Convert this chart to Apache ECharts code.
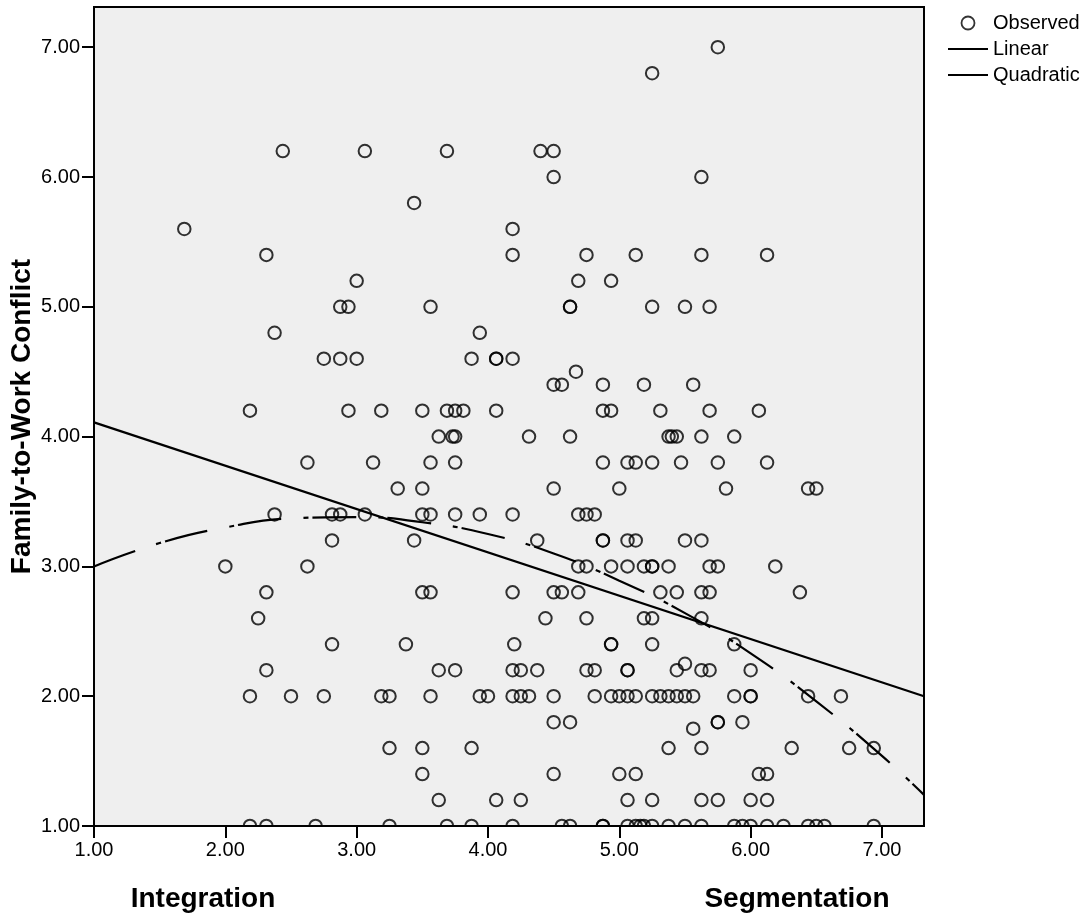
<!DOCTYPE html>
<html lang="en">
  <head>
    <meta charset="UTF-8" />
    <title>Family-to-Work Conflict</title>
    <style>
      * {
        margin: 0;
        padding: 0;
      }
      html,
      body {
        width: 100%;
        height: 100%;
        background: #fff;
      }
      #chart {
        width: 1092px;
        height: 920px;
      }
    </style>
    <script src="https://cdn.jsdelivr.net/npm/echarts@6/dist/echarts.min.js"></script>
  </head>
  <body>
    <div id="chart"></div>
    <script>
      // tick positions on both axes
      var xTicks = [1, 2, 3, 4, 5, 6, 7];
      var yTicks = [1, 2, 3, 4, 5, 6, 7];

      // observed points, grouped by conflict score: [y, [x, x, ...]]
      var observedRows = [
        [7.0, [5.75]],
        [6.8, [5.25]],
        [6.2, [2.4375, 3.0625, 3.6875, 4.4, 4.5]],
        [6.0, [4.5, 5.625]],
        [5.8, [3.4375]],
        [5.6, [1.6875, 4.1875]],
        [5.4, [2.3125, 4.1875, 4.75, 5.125, 5.625, 6.125]],
        [5.2, [3.0, 4.6875, 4.9375]],
        [5.0, [2.875, 2.9375, 3.5625, 4.625, 4.625, 5.25, 5.5, 5.6875]],
        [4.8, [2.375, 3.9375]],
        [4.6, [2.75, 2.875, 3.0, 3.875, 4.0625, 4.0625, 4.1875]],
        [4.5, [4.67]],
        [4.4, [4.5, 4.5625, 4.875, 5.1875, 5.5625]],
        [4.2, [2.1875, 2.9375, 3.1875, 3.5, 3.6875, 3.75, 3.8125, 4.0625, 4.875, 4.9375, 5.3125, 5.6875, 6.0625]],
        [4.0, [3.625, 3.73, 3.75, 4.3125, 4.625, 5.375, 5.4, 5.4375, 5.625, 5.875]],
        [3.8, [2.625, 3.125, 3.5625, 3.75, 4.875, 5.0625, 5.125, 5.25, 5.47, 5.75, 6.125]],
        [3.6, [3.3125, 3.5, 4.5, 5.0, 5.8125, 6.4375, 6.5]],
        [3.4, [2.375, 2.8125, 2.875, 3.0625, 3.5, 3.5625, 3.75, 3.9375, 4.1875, 4.6875, 4.75, 4.8125]],
        [3.2, [2.8125, 3.4375, 4.375, 4.875, 4.875, 5.0625, 5.125, 5.5, 5.625]],
        [3.0, [2.0, 2.625, 4.6875, 4.75, 4.9375, 5.0625, 5.1875, 5.25, 5.25, 5.375, 5.6875, 5.75, 6.1875]],
        [2.8, [2.3125, 3.5, 3.5625, 4.1875, 4.5, 4.5625, 4.6875, 5.3125, 5.4375, 5.625, 5.6875, 6.375]],
        [2.6, [2.25, 4.4375, 4.75, 5.1875, 5.25, 5.625]],
        [2.4, [2.8125, 3.375, 4.2, 4.9375, 4.9375, 5.25, 5.875]],
        [2.25, [5.5]],
        [2.2, [2.3125, 3.625, 3.75, 4.1875, 4.25, 4.375, 4.75, 4.8125, 5.0625, 5.0625, 5.4375, 5.625, 5.6875, 6.0]],
        [2.0, [2.1875, 2.5, 2.75, 3.1875, 3.25, 3.5625, 3.9375, 4.0, 4.1875, 4.25, 4.3125, 4.5, 4.8125, 4.9375, 5.0, 5.0625, 5.125, 5.25, 5.3125, 5.375, 5.4375, 5.5, 5.5625, 5.875, 6.0, 6.0, 6.4375, 6.6875]],
        [1.8, [4.5, 4.625, 5.75, 5.75, 5.9375]],
        [1.75, [5.5625]],
        [1.6, [3.25, 3.5, 3.875, 5.375, 5.625, 6.3125, 6.75, 6.9375]],
        [1.4, [3.5, 4.5, 5.0, 5.125, 6.0625, 6.125]],
        [1.2, [3.625, 4.0625, 4.25, 5.0625, 5.25, 5.625, 5.75, 6.0, 6.125]],
        [1.0, [2.1875, 2.3125, 2.6875, 3.25, 3.6875, 3.875, 4.1875, 4.5625, 4.625, 4.875, 4.875, 5.0625, 5.125, 5.16, 5.1875, 5.25, 5.375, 5.5, 5.625, 5.875, 5.9375, 6.0, 6.125, 6.25, 6.4375, 6.5, 6.5625, 6.9375]],
      ];

      // fitted lines
      var linearX = [1, 7.32];
      var linearY = [4.11, 2.0];
      var quadX = [1, 1.5, 2, 2.5, 3, 3.5, 4, 4.5, 5, 5.5, 6, 6.5, 7, 7.32];
      var quadY = [3.0, 3.18, 3.3, 3.37, 3.38, 3.34, 3.25, 3.1, 2.89, 2.64, 2.33, 1.96, 1.54, 1.24];

      var font = "Liberation Sans, Arial, sans-serif";

      var observed = [];
      observedRows.forEach(function (row) {
        row[1].forEach(function (x) {
          observed.push([x, row[0]]);
        });
      });
      var zip = function (xs, ys) {
        return xs.map(function (x, i) {
          return [x, ys[i]];
        });
      };
      var fmt = function (v) {
        return v.toFixed(2);
      };
      // no symbol in the legend icons of the two fit lines
      var noSymbol = { color: "transparent", borderColor: "transparent", borderWidth: 0 };

      var option = {
        animation: false,
        backgroundColor: "#fff",
        textStyle: { fontFamily: font, color: "#000" },
        grid: {
          left: 94,
          right: 168,
          top: 7,
          bottom: 94,
          outerBoundsMode: "none",
          containLabel: false,
          show: true,
          backgroundColor: "#efefef",
          borderColor: "#000",
          borderWidth: 2,
        },
        legend: {
          orient: "vertical",
          left: 942,
          top: 8,
          itemWidth: 40,
          itemHeight: 13,
          itemGap: 6,
          textStyle: { fontSize: 20, color: "#000", fontFamily: font },
          data: [
            {
              name: "Observed",
              icon: "circle",
              itemStyle: { color: "transparent", borderColor: "#000", borderWidth: 1.8 },
            },
            { name: "Linear", itemStyle: noSymbol },
            { name: "Quadratic", itemStyle: noSymbol },
          ],
        },
        xAxis: {
          type: "value",
          min: 1,
          max: 7.32,
          z: 4,
          axisLine: { lineStyle: { color: "#000", width: 2 } },
          axisTick: { length: 12, lineStyle: { color: "#000", width: 2 }, customValues: xTicks },
          axisLabel: {
            customValues: xTicks,
            margin: 14,
            fontSize: 20,
            color: "#000",
            fontFamily: font,
            formatter: fmt,
          },
          splitLine: { show: false },
        },
        yAxis: {
          type: "value",
          min: 1,
          max: 7.31,
          z: 4,
          name: "Family-to-Work Conflict",
          nameLocation: "middle",
          nameGap: 58,
          nameMoveOverlap: false,
          nameTextStyle: { fontSize: 28, fontWeight: "bold", color: "#000", fontFamily: font },
          axisLine: { lineStyle: { color: "#000", width: 2 } },
          axisTick: { length: 12, lineStyle: { color: "#000", width: 2 }, customValues: yTicks },
          axisLabel: {
            customValues: yTicks,
            margin: 14,
            fontSize: 20,
            color: "#000",
            fontFamily: font,
            formatter: fmt,
          },
          splitLine: { show: false },
        },
        graphic: [
          {
            // hides the lower half of circles sitting on the x axis
            type: "rect",
            z: 3,
            shape: { x: 0, y: 827, width: 1092, height: 93 },
            style: { fill: "#fff" },
          },
          {
            type: "text",
            z: 5,
            x: 203,
            y: 899,
            style: {
              text: "Integration",
              fill: "#000",
              font: "bold 28px " + font,
              align: "center",
              verticalAlign: "middle",
            },
          },
          {
            type: "text",
            z: 5,
            x: 797,
            y: 899,
            style: {
              text: "Segmentation",
              fill: "#000",
              font: "bold 28px " + font,
              align: "center",
              verticalAlign: "middle",
            },
          },
        ],
        series: [
          {
            name: "Observed",
            type: "scatter",
            symbol: "circle",
            symbolSize: 12.5,
            z: 2,
            itemStyle: { color: "transparent", borderColor: "#000", borderWidth: 2 },
            data: observed,
          },
          {
            name: "Linear",
            type: "line",
            symbol: "none",
            z: 2,
            itemStyle: { color: "#000" },
            lineStyle: { color: "#000", width: 2.2 },
            data: zip(linearX, linearY),
          },
          {
            name: "Quadratic",
            type: "line",
            symbol: "none",
            smooth: true,
            z: 2,
            itemStyle: { color: "#000" },
            lineStyle: { color: "#000", width: 2.2, type: [44, 22, 5, 4] },
            data: zip(quadX, quadY),
          },
        ],
      };

      var myChart = echarts.init(document.getElementById("chart"));
      myChart.setOption(option);
    </script>
  </body>
</html>
